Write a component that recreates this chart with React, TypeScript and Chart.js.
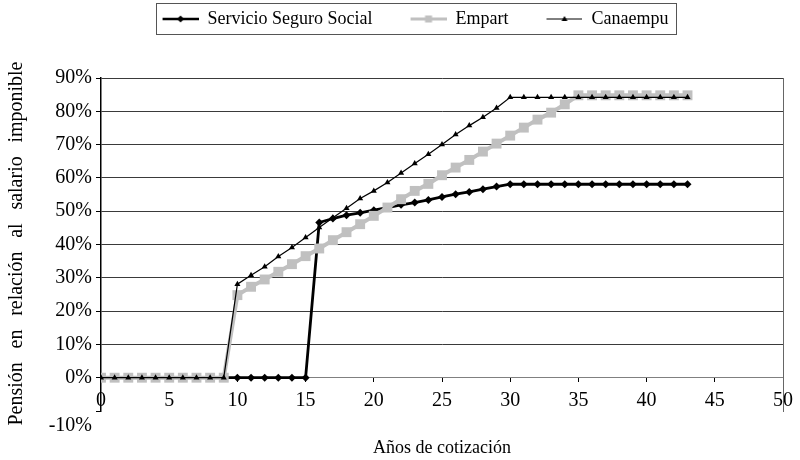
import React, { useEffect, useRef } from 'react';
import { Chart, registerables } from 'chart.js';

Chart.register(...registerables);

const years = [0, 1, 2, 3, 4, 5, 6, 7, 8, 9, 10, 11, 12, 13, 14, 15, 16, 17, 18, 19, 20, 21, 22, 23, 24, 25, 26, 27, 28, 29, 30, 31, 32, 33, 34, 35, 36, 37, 38, 39, 40, 41, 42, 43];
const seguroSocial = [0, 0, 0, 0, 0, 0, 0, 0, 0, 0, 0, 0, 0, 0, 0, 0, 46.6, 47.8, 48.8, 49.5, 50.3, 51.1, 51.9, 52.6, 53.4, 54.3, 55.1, 55.8, 56.6, 57.4, 58.1, 58.1, 58.1, 58.1, 58.1, 58.1, 58.1, 58.1, 58.1, 58.1, 58.1, 58.1, 58.1, 58.1];
const empart = [0, 0, 0, 0, 0, 0, 0, 0, 0, 0, 24.8, 27.3, 29.5, 31.8, 34.1, 36.5, 38.8, 41.3, 43.7, 46.1, 48.6, 51.1, 53.6, 56.1, 58.2, 60.8, 63.1, 65.4, 67.9, 70.3, 72.7, 75.1, 77.5, 79.6, 82.1, 84.8, 84.8, 84.8, 84.8, 84.8, 84.8, 84.8, 84.8, 84.8];
const canaempu = [0, 0, 0, 0, 0, 0, 0, 0, 0, 0, 28.1, 30.8, 33.3, 36.4, 39.1, 42.1, 45.1, 48.0, 50.9, 53.8, 56.1, 58.6, 61.5, 64.3, 67.1, 70.0, 73.0, 75.7, 78.2, 81.0, 84.2, 84.2, 84.2, 84.2, 84.2, 84.2, 84.2, 84.2, 84.2, 84.2, 84.2, 84.2, 84.2, 84.2];
const seriesNames = ['Servicio Seguro Social', 'Empart', 'Canaempu'];
const xTitle = 'Años de cotización';
const yTitle = 'Pensión en relación al salario imponible';

const FONT = '"Liberation Serif", "Times New Roman", serif';
const LEG_GAP = 28;
const LEG_W = 64;

function sampleImage(kind: number): HTMLCanvasElement {
  const c = document.createElement('canvas');
  c.width = LEG_W;
  c.height = 16;
  const g = c.getContext('2d') as CanvasRenderingContext2D;
  const x0 = LEG_GAP;
  const x1 = LEG_W;
  const cy = 8;
  const cx = (x0 + x1) / 2;
  g.beginPath();
  g.moveTo(x0, cy);
  g.lineTo(x1, cy);
  if (kind === 0) {
    g.strokeStyle = '#000';
    g.lineWidth = 2.5;
    g.stroke();
    g.fillStyle = '#000';
    g.beginPath();
    g.moveTo(cx, cy - 3.5);
    g.lineTo(cx + 3.5, cy);
    g.lineTo(cx, cy + 3.5);
    g.lineTo(cx - 3.5, cy);
    g.closePath();
    g.fill();
  } else if (kind === 1) {
    g.strokeStyle = '#c0c0c0';
    g.lineWidth = 3;
    g.stroke();
    g.fillStyle = '#c0c0c0';
    g.fillRect(cx - 3.5, cy - 3.5, 7, 7);
  } else {
    g.strokeStyle = '#000';
    g.lineWidth = 1;
    g.stroke();
    g.fillStyle = '#000';
    g.beginPath();
    g.moveTo(cx, cy - 3);
    g.lineTo(cx + 3, cy + 2);
    g.lineTo(cx - 3, cy + 2);
    g.closePath();
    g.fill();
  }
  return c;
}

const legendBoxPlugin = {
  id: 'legendBox',
  afterDraw(chart: any) {
    const lg = chart.legend;
    if (!lg || !lg.legendHitBoxes || !lg.legendHitBoxes.length) return;
    const hb = lg.legendHitBoxes;
    const first = hb[0];
    const last = hb[hb.length - 1];
    const left = Math.round(first.left + LEG_GAP - 7) + 0.5;
    const right = Math.round(last.left + last.width + 8) + 0.5;
    const top = Math.round(first.top - 7) + 0.5;
    const bottom = Math.round(first.top + first.height + 6) + 0.5;
    const ctx = chart.ctx;
    ctx.save();
    ctx.strokeStyle = '#555';
    ctx.lineWidth = 1;
    ctx.strokeRect(left, top, right - left, bottom - top);
    ctx.restore();
  },
};

const yTitlePlugin = {
  id: 'yTitleSpread',
  afterDraw(chart: any) {
    const ctx = chart.ctx as any;
    const area = chart.chartArea;
    ctx.save();
    ctx.font = `20px ${FONT}`;
    ctx.fillStyle = '#000';
    ctx.textBaseline = 'middle';
    ctx.textAlign = 'center';
    const total = 364;
    const words = yTitle.split(' ');
    const plain = ctx.measureText(yTitle).width;
    const extra = Math.max(0, (total - plain) / (words.length - 1));
    ctx.translate(17, (area.top + area.bottom) / 2 - 1);
    ctx.rotate(-Math.PI / 2);
    if ('wordSpacing' in ctx) {
      ctx.wordSpacing = `${extra}px`;
    }
    ctx.fillText(yTitle, 0, 0);
    ctx.restore();
  },
};

function toPoints(vals: number[]) {
  return years.map((x, i) => ({ x, y: vals[i] }));
}

export default function App() {
  const ref = useRef<HTMLCanvasElement | null>(null);

  useEffect(() => {
    document.body.style.margin = '0';
    const canvas = ref.current;
    if (!canvas) return;
    const samples = [sampleImage(0), sampleImage(1), sampleImage(2)];
    const chart = new Chart(canvas, {
      type: 'line',
      data: {
        datasets: [
          {
            label: seriesNames[0],
            data: toPoints(seguroSocial),
            borderColor: '#000',
            backgroundColor: '#000',
            borderWidth: 2.8,
            pointStyle: 'rectRot',
            pointRadius: 4,
            pointBorderWidth: 0,
            pointBackgroundColor: '#000',
            xAxisID: 'x',
            yAxisID: 'y',
            order: 3,
          },
          {
            label: seriesNames[1],
            data: toPoints(empart),
            borderColor: '#c0c0c0',
            backgroundColor: '#c0c0c0',
            borderWidth: 4,
            pointStyle: 'rect',
            pointRadius: 7,
            pointBorderWidth: 0,
            pointBackgroundColor: '#c0c0c0',
            xAxisID: 'x',
            yAxisID: 'y',
            order: 2,
          },
          {
            label: seriesNames[2],
            data: toPoints(canaempu),
            borderColor: '#000',
            backgroundColor: '#000',
            borderWidth: 1.2,
            pointStyle: 'triangle',
            pointRadius: 3.5,
            pointBorderWidth: 0,
            pointBackgroundColor: '#000',
            xAxisID: 'x',
            yAxisID: 'y',
            order: 1,
          },
        ],
      },
      options: {
        responsive: false,
        animation: false,
        layout: { padding: { top: 0, left: 16, right: 13, bottom: 49 } },
        plugins: {
          tooltip: { enabled: false },
          legend: {
            display: true,
            position: 'top',
            align: 'center',
            labels: {
              usePointStyle: true,
              pointStyleWidth: LEG_W,
              padding: 10,
              color: '#000',
              font: { family: FONT, size: 18 },
              generateLabels: () =>
                seriesNames.map((name, i) => ({
                  text: name,
                  pointStyle: samples[i] as any,
                  fillStyle: '#000',
                  strokeStyle: '#000',
                  lineWidth: 0,
                  hidden: false,
                  datasetIndex: i,
                  fontColor: '#000',
                })),
            },
          },
        },
        scales: {
          x: {
            type: 'linear',
            position: { y: 0 } as any,
            min: 0,
            max: 50,
            afterFit: (s: any) => {
              s.height = 49;
            },
            ticks: {
              stepSize: 5,
              autoSkip: false,
              maxRotation: 0,
              padding: 7,
              color: '#000',
              font: { family: FONT, size: 20 },
            },
            grid: {
              drawOnChartArea: false,
              drawTicks: true,
              tickLength: 4,
              tickColor: '#000',
              color: '#000',
            },
            border: { display: true, color: '#808080', width: 1 },
            title: {
              display: true,
              text: xTitle,
              color: '#000',
              font: { family: FONT, size: 18 },
              padding: { top: 0, bottom: -32 },
            },
          },
          xTop: {
            type: 'linear',
            position: 'top',
            min: 0,
            max: 50,
            display: true,
            afterFit: (s: any) => {
              s.height = 40;
            },
            ticks: { display: false },
            grid: { display: false },
            border: { display: false },
          },
          y: {
            type: 'linear',
            position: 'left',
            min: -10,
            max: 90,
            afterFit: (s: any) => {
              s.width = 85;
            },
            ticks: {
              stepSize: 10,
              autoSkip: false,
              padding: 4,
              color: '#000',
              font: (c: any) => ({
                family: FONT,
                size: 20,
                lineHeight: c.tick && c.tick.value === -10 ? 1.5 : 1.2,
              }),
              callback: (v: any) => (Number(v) === -10 ? ['', '-10%'] : `${v}%`),
            },
            grid: {
              drawTicks: true,
              tickLength: 5,
              tickColor: '#000',
              color: (c: any) => (c.tick && c.tick.value === -10 ? 'rgba(0,0,0,0)' : '#3a3a3a'),
              lineWidth: 1,
            },
            border: { display: true, color: '#000', width: 1.5 },
          },
          y2: {
            type: 'linear',
            position: 'right',
            min: -10,
            max: 90,
            afterFit: (s: any) => {
              s.width = 0;
            },
            ticks: { display: false },
            grid: { drawOnChartArea: false, drawTicks: false },
            border: { display: true, color: '#666', width: 1 },
          },
        },
      },
      plugins: [legendBoxPlugin, yTitlePlugin],
    } as any);
    return () => chart.destroy();
  }, []);

  return (
    <div style={{ position: 'absolute', left: 0, top: 0, width: 800, height: 460, background: '#fff' }}>
      <canvas ref={ref} width={800} height={460} style={{ display: 'block', width: 800, height: 460 }} />
    </div>
  );
}
